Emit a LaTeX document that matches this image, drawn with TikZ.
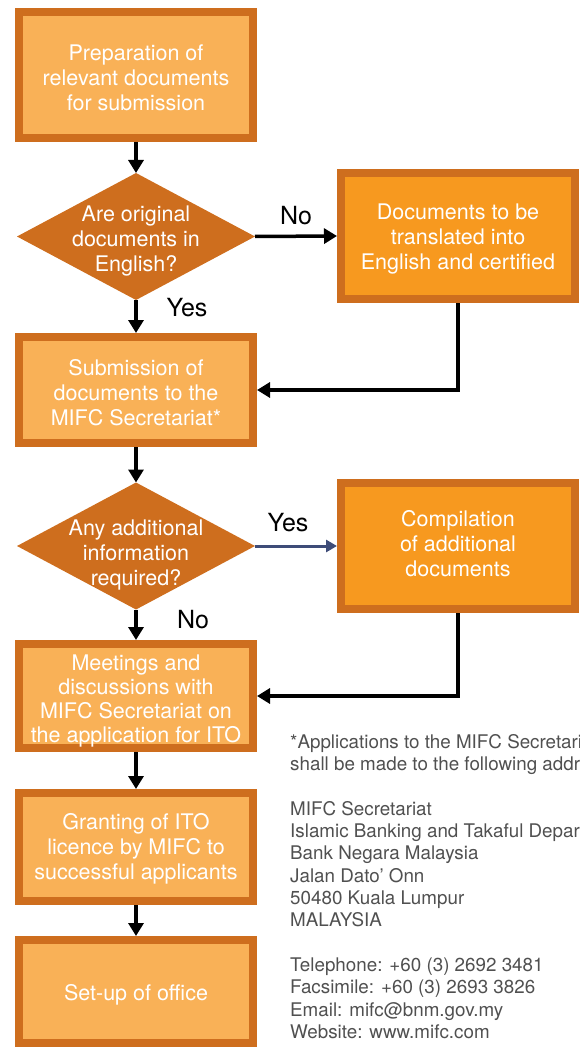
\documentclass[tikz,border=0pt]{standalone}
\usepackage{fontspec}
\setmainfont{TeX Gyre Heros}
\usetikzlibrary{shapes.geometric,arrows.meta}
\definecolor{dkor}{HTML}{CE6E1E}
\definecolor{ltor}{HTML}{F9B157}
\definecolor{bror}{HTML}{F7991F}
\definecolor{arrblue}{HTML}{3E4C78}
\definecolor{txtgray}{HTML}{505050}
\tikzset{
  box/.style={draw=dkor, line width=8pt, fill=ltor, minimum width=234pt, inner sep=0pt},
  sidebox/.style={box, fill=bror},
  boxtext/.style={text=white, align=center, inner sep=0pt, font=\fontsize{21.5}{25}\selectfont},
  dia/.style={diamond, fill=dkor, inner sep=0pt, outer sep=0pt, minimum width=238pt, minimum height=127pt},
  conn/.style={line width=3.5pt, -{Triangle[length=13pt,width=15pt]}},
  bconn/.style={draw=arrblue, line width=3pt, -{Triangle[length=11pt,width=12pt]}},
  lab/.style={font=\fontsize{25}{30}\selectfont, inner sep=0pt},
  note/.style={anchor=base west, inner sep=0pt, text=txtgray, font=\fontsize{18.8}{22}\selectfont}
}
\begin{document}
\begin{tikzpicture}[x=1pt,y=-1pt]
\path[use as bounding box] (0,0) rectangle (579,1048);
\clip (0,0) rectangle (579,1048);
% left column
\node[box, minimum height=126pt] (b1) at (136,75) {};
\node[boxtext] (b1t) at (136,78) {Preparation of\\relevant documents\\for submission};
\node[dia] (d1) at (136,236.5) {};
\node[boxtext] (d1t) at (136,241) {Are original\\documents in\\English?};
\node[box, minimum height=106pt] (b2) at (136,390) {};
\node[boxtext] (b2t) at (136,393) {Submission of\\documents to the\\MIFC Secretariat*};
\node[dia] (d2) at (136,546) {};
\node[boxtext] (d2t) at (136,555) {Any additional\\information\\required?};
\node[box, minimum height=104pt] (b3) at (136,696) {};
\node[boxtext, font=\fontsize{21.5}{24}\selectfont] (b3t) at (136,701) {Meetings and\\discussions with\\MIFC Secretariat on\\the application for ITO};
\node[box, minimum height=108pt] (b4) at (136,847) {};
\node[boxtext] (b4t) at (136,849) {Granting of ITO\\licence by MIFC to\\successful applicants};
\node[box, minimum height=103pt] (b5) at (136,991.5) {};
\node[boxtext] (b5t) at (136,994.5) {Set-up of office};
% right column
\node[sidebox, minimum height=126pt] (bt) at (458,236) {};
\node[boxtext] (btt) at (458,239) {Documents to be\\translated into\\English and certified};
\node[sidebox, minimum height=126pt] (bc) at (458,546) {};
\node[boxtext] (bct) at (458,544) {Compilation\\of additional\\documents};
% connectors
\draw[conn] (b1.south) -- (d1.north);
\draw[conn] (d1.east) -- (bt.west);
\draw[conn] (d1.south) -- (b2.north);
\draw[conn] (bt.south) |- (b2.east);
\draw[conn] (b2.south) -- (d2.north);
\draw[bconn] (d2.east) -- (bc.west);
\draw[conn] (d2.south) -- (b3.north);
\draw[conn] (bc.south) |- (b3.east);
\draw[conn] (b3.south) -- (b4.north);
\draw[conn] (b4.south) -- (b5.north);
% labels
\node[lab] (lno1) at (296,216) {No};
\node[lab] (lyes1) at (187,308) {Yes};
\node[lab] (lyes2) at (288,523) {Yes};
\node[lab] (lno2) at (193,620) {No};
% note
\node[note] (n1) at (290,748) {*Applications to the MIFC Secretariat};
\node[note] (n2) at (290,770.35) {shall be made to the following address:};
\node[note] (n3) at (290,815.05) {MIFC Secretariat};
\node[note] (n4) at (290,837.4) {Islamic Banking and Takaful Department};
\node[note] (n5) at (290,859.75) {Bank Negara Malaysia};
\node[note] (n6) at (290,882.1) {Jalan Dato’ Onn};
\node[note] (n7) at (290,904.45) {50480 Kuala Lumpur};
\node[note] (n8) at (290,926.8) {MALAYSIA};
\node[note] (n9) at (290,971.5) {Telephone: +60 (3) 2692 3481};
\node[note] (n10) at (290,993.85) {Facsimile: +60 (3) 2693 3826};
\node[note] (n11) at (290,1016.2) {Email: mifc@bnm.gov.my};
\node[note] (n12) at (290,1038.55) {Website: www.mifc.com};
\end{tikzpicture}
\end{document}
